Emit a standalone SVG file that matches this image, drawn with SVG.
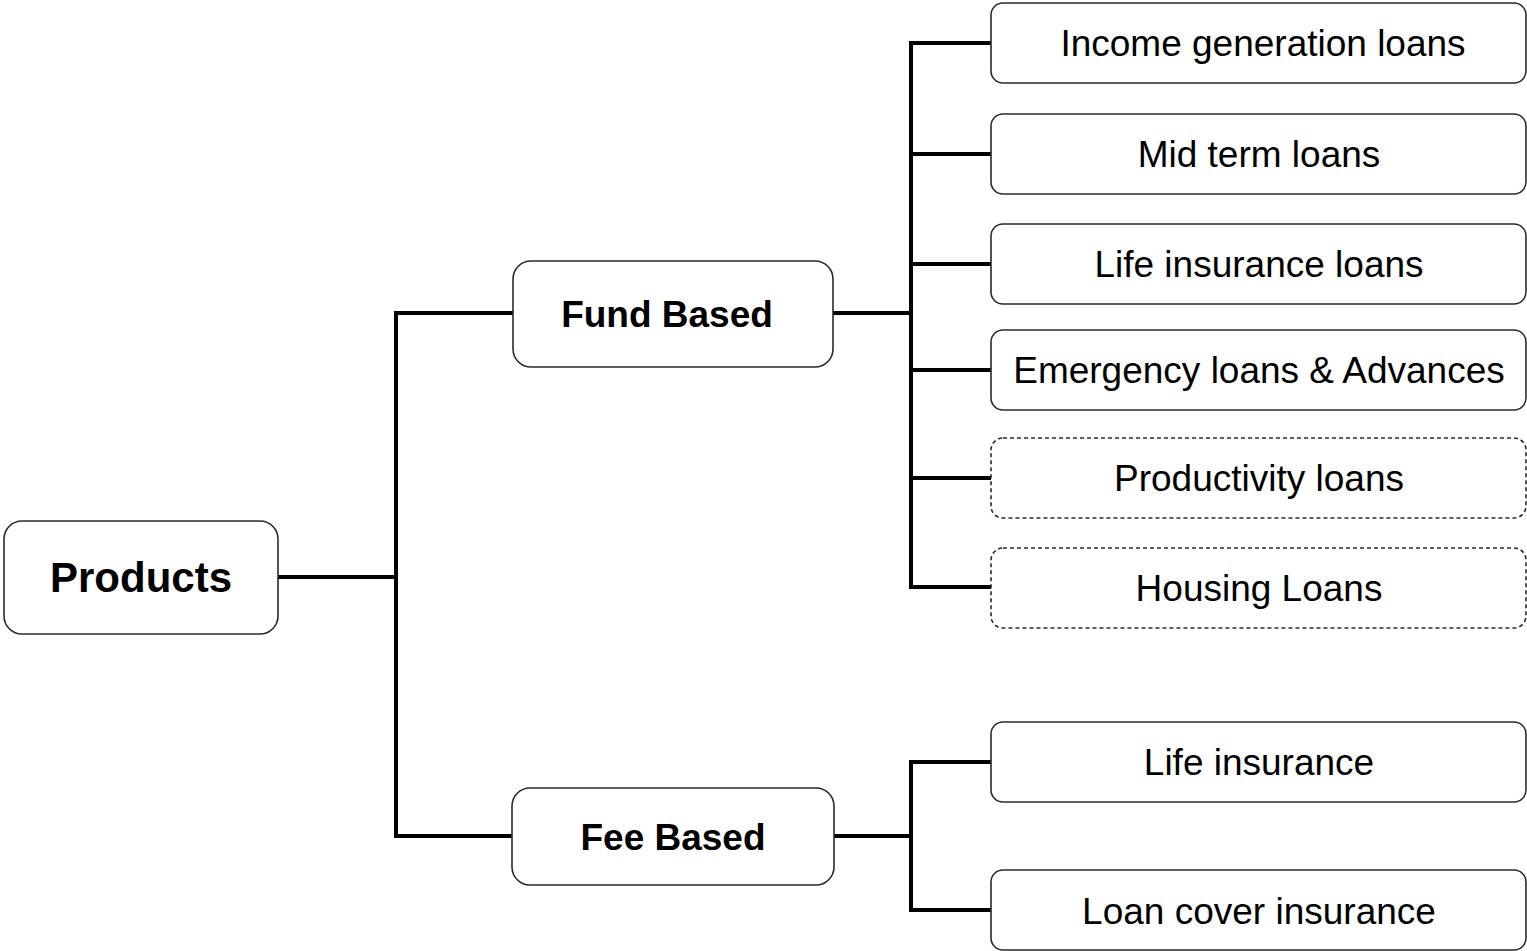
<svg xmlns="http://www.w3.org/2000/svg" width="1527" height="951" viewBox="0 0 1527 951">
  <style>
    .box { fill: #ffffff; stroke: #2a2a2a; stroke-width: 1.6; }
    .dash { stroke-dasharray: 4 3; }
    .conn { fill: none; stroke: #000000; stroke-width: 4; stroke-linejoin: miter; stroke-linecap: square; }
    .lbl { font-family: "Liberation Sans", Arial, sans-serif; font-size: 37px; fill: #000000; text-anchor: middle; }
    .bold { font-weight: bold; }
  </style>
  <rect width="1527" height="951" fill="#ffffff"/>
  <g id="connectors">
    <path class="conn" d="M279 577 H396 M396 313 V836 M396 313 H513 M396 836 H512"/>
    <path class="conn" d="M834 313 H911 M911 43 V587 M911 43 H990 M911 154 H990 M911 264 H990 M911 370 H990 M911 478 H990 M911 587 H990"/>
    <path class="conn" d="M835 836 H911 M911 762 V910 M911 762 H990 M911 910 H990"/>
  </g>
  <g id="products">
    <rect class="box" x="4" y="521" width="274" height="113" rx="18"/>
    <text class="lbl bold" x="141" y="592" font-size="42" style="font-size:42px">Products</text>
  </g>
  <g id="fund-based">
    <rect class="box" x="513" y="261" width="320" height="106" rx="18"/>
    <text class="lbl bold" x="667" y="327">Fund Based</text>
  </g>
  <g id="fee-based">
    <rect class="box" x="512" y="788" width="322" height="97" rx="18"/>
    <text class="lbl bold" x="673" y="850">Fee Based</text>
  </g>
  <g id="income-generation-loans">
    <rect class="box" x="991" y="3" width="535" height="80" rx="12"/>
    <text class="lbl" x="1263" y="56">Income generation loans</text>
  </g>
  <g id="mid-term-loans">
    <rect class="box" x="991" y="114" width="535" height="80" rx="12"/>
    <text class="lbl" x="1259" y="167">Mid term loans</text>
  </g>
  <g id="life-insurance-loans">
    <rect class="box" x="991" y="224" width="535" height="80" rx="12"/>
    <text class="lbl" x="1259" y="277">Life insurance loans</text>
  </g>
  <g id="emergency-loans">
    <rect class="box" x="991" y="330" width="535" height="80" rx="12"/>
    <text class="lbl" x="1259" y="383">Emergency loans &amp; Advances</text>
  </g>
  <g id="productivity-loans">
    <rect class="box dash" x="991" y="438" width="535" height="80" rx="12"/>
    <text class="lbl" x="1259" y="491">Productivity loans</text>
  </g>
  <g id="housing-loans">
    <rect class="box dash" x="991" y="548" width="535" height="80" rx="12"/>
    <text class="lbl" x="1259" y="601">Housing Loans</text>
  </g>
  <g id="life-insurance">
    <rect class="box" x="991" y="722" width="535" height="80" rx="12"/>
    <text class="lbl" x="1259" y="775">Life insurance</text>
  </g>
  <g id="loan-cover-insurance">
    <rect class="box" x="991" y="870" width="535" height="80" rx="12"/>
    <text class="lbl" x="1259" y="924">Loan cover insurance</text>
  </g>
</svg>
